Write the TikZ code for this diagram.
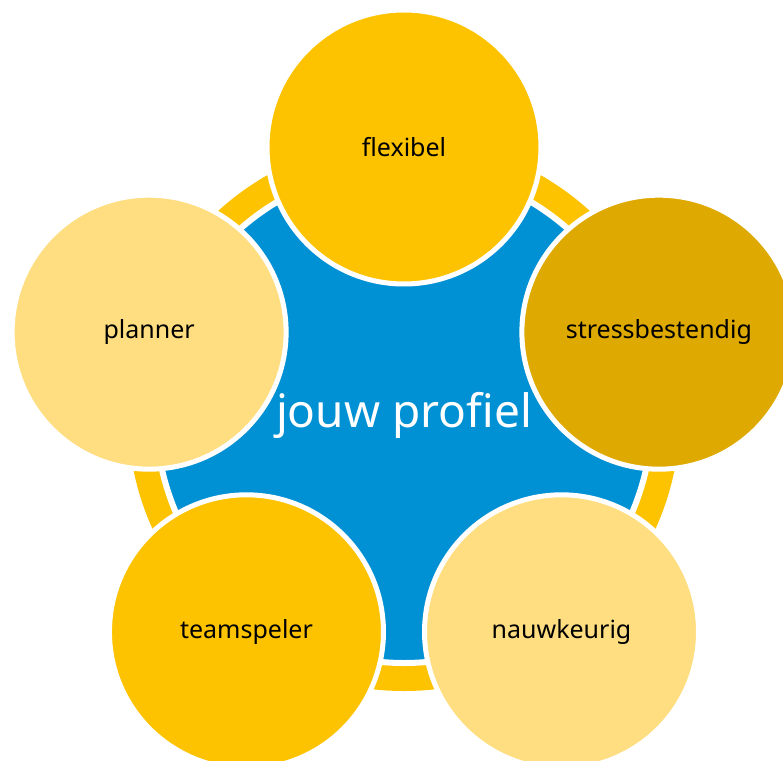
\documentclass[tikz,border=0pt]{standalone}
\usepackage{fontspec}
\usepackage{tikz}
\setmainfont{Noto Sans}

\begin{document}
\begin{tikzpicture}[x=1pt,y=1pt]
    % Define colors
    \definecolor{profileblue}{RGB}{0,144,212}
    \definecolor{ringyellow}{RGB}{253,195,0}
    \definecolor{lightyellow}{RGB}{254,222,128}
    \definecolor{darkgold}{RGB}{222,169,0}

    \def\radius{268pt}

    \tikzset{
        trait/.style={circle, draw=white, line width=5pt, minimum size=274pt,
            inner sep=0pt, text=black, font=\fontsize{25}{30}\selectfont},
    }

    \useasboundingbox (-404,-345) rectangle (379,415);
    \clip (-404,-345) rectangle (379,415);

    % Outer ring and centre
    \fill[ringyellow] (0,0) circle (276pt);
    \node[circle, fill=profileblue, draw=white, line width=6pt, minimum size=496pt,
        inner sep=0pt, text=white, font=\fontsize{46}{50}\selectfont] (profiel) at (0,0) {jouw profiel};

    % Traits around the centre
    \node[trait, fill=ringyellow] (flexibel) at (90:\radius) {flexibel};
    \node[trait, fill=darkgold] (stress) at (18:\radius) {stressbestendig};
    \node[trait, fill=lightyellow] (nauwkeurig) at (-54:\radius) {nauwkeurig};
    \node[trait, fill=ringyellow] (teamspeler) at (-126:\radius) {teamspeler};
    \node[trait, fill=lightyellow] (planner) at (162:\radius) {planner};
\end{tikzpicture}
\end{document}
